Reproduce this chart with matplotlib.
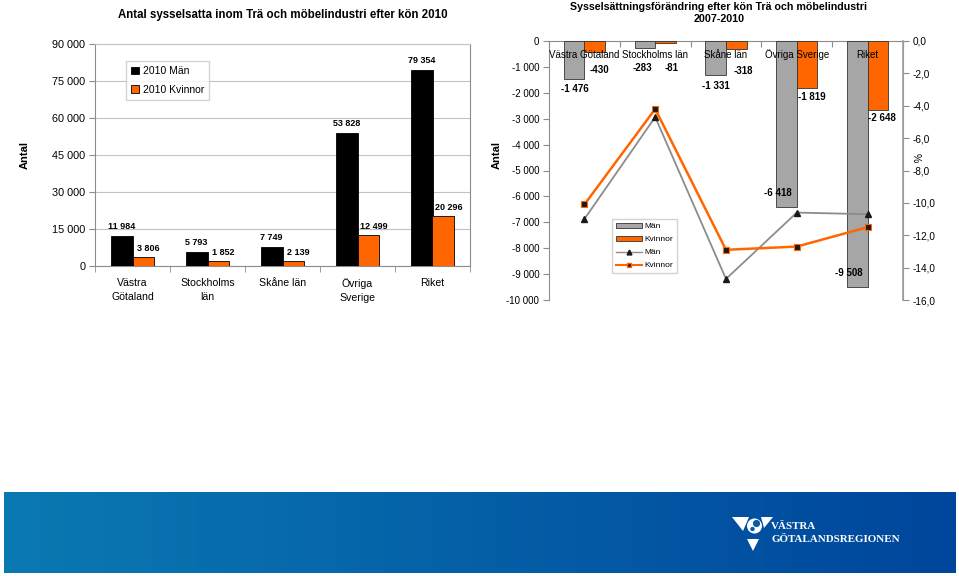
import numpy as np
import matplotlib
matplotlib.use("Agg")
import matplotlib.pyplot as plt
from matplotlib.ticker import FuncFormatter
from matplotlib.patches import Polygon, Circle, Patch
from matplotlib.lines import Line2D

plt.rcParams['font.family'] = ['Liberation Sans', 'DejaVu Sans']

# ---------------- data ----------------
categories_left = ["Västra\nGötaland", "Stockholms\nlän", "Skåne län", "Övriga\nSverige", "Riket"]
man_2010 = [11984, 5793, 7749, 53828, 79354]
kvinnor_2010 = [3806, 1852, 2139, 12499, 20296]

categories_right = ["Västra Götaland", "Stockholms län", "Skåne län", "Övriga Sverige", "Riket"]
man_change = [-1476, -283, -1331, -6418, -9508]
kvinnor_change = [-430, -81, -318, -1819, -2648]
man_change_pct = [-11.0, -4.7, -14.7, -10.6, -10.7]
kvinnor_change_pct = [-10.1, -4.2, -12.9, -12.7, -11.5]

# label offsets (pixels) for the right chart bar labels
man_lbl_dx = [1, -2, 0, -9, -9]
man_lbl_dy = [10, 20, 11, -14, -14]
kv_lbl_dx = [5, 6, 7, 5, 4]
kv_lbl_dy = [18, 25, 22, 9, 8]

W, H = 959, 576
fig = plt.figure(figsize=(W / 100, H / 100), dpi=100)


def rect(x0, y0, x1, y1):
    return [x0 / W, 1 - y1 / H, (x1 - x0) / W, (y1 - y0) / H]


def sp(v):
    s = f"{abs(int(round(v))):,}".replace(",", " ")
    return ("-" if v < 0 else "") + s


GRAY = '#8C8C8C'
ORANGE = '#FF6600'

# ---------------- left chart ----------------
axL = fig.add_axes(rect(95, 44, 470, 266))
x = np.arange(len(categories_left))
bw = 0.29
axL.bar(x - bw / 2, man_2010, bw, color='black', edgecolor='black', lw=0.6,
        label='2010 Män', zorder=3)
axL.bar(x + bw / 2, kvinnor_2010, bw, color=ORANGE, edgecolor='black', lw=0.6,
        label='2010 Kvinnor', zorder=3)
axL.set_xlim(-0.5, len(x) - 0.5)
axL.set_ylim(0, 90000)
axL.set_yticks(range(0, 90001, 15000))
axL.yaxis.set_major_formatter(FuncFormatter(lambda v, p: sp(v)))
axL.grid(axis='y', color='#C4C4C4', lw=0.8, zorder=0)
axL.set_xticks(x)
axL.set_xticklabels(categories_left, fontsize=7.6, linespacing=1.5)
axL.set_xticks(np.arange(-0.5, len(x), 1.0), minor=True)
axL.tick_params(axis='x', which='major', length=0, pad=9)
axL.tick_params(axis='x', which='minor', length=4, color=GRAY)
axL.tick_params(axis='y', length=4, color=GRAY, labelsize=7.8, pad=3)
for s in ['left', 'bottom', 'right', 'top']:
    axL.spines[s].set_color(GRAY)
axL.spines['top'].set_color('#C4C4C4')

for i in range(len(x)):
    axL.annotate(sp(man_2010[i]), (x[i] - bw / 2, man_2010[i]), xytext=(0, 5),
                 textcoords='offset pixels', ha='center', va='bottom',
                 fontsize=6.5, fontweight='bold')
    axL.annotate(sp(kvinnor_2010[i]), (x[i] + bw / 2, kvinnor_2010[i]), xytext=(5, 4),
                 textcoords='offset pixels', ha='center', va='bottom',
                 fontsize=6.5, fontweight='bold')

axL.legend(loc='upper left', bbox_to_anchor=(126 / W, 1 - 61 / H),
           bbox_transform=fig.transFigure, fontsize=7.5, frameon=True,
           fancybox=False, edgecolor='#C8C8C8', handlelength=0.7,
           handleheight=0.7, handletextpad=0.4, borderpad=0.5,
           labelspacing=0.8, borderaxespad=0)

fig.text(283 / W, 1 - 15 / H, "Antal sysselsatta inom Trä och möbelindustri efter kön 2010",
         ha='center', va='center', fontsize=8.3, fontweight='bold')
fig.text(25 / W, 1 - 155 / H, "Antal", rotation=90, ha='center', va='center',
         fontsize=8, fontweight='bold')

# ---------------- right chart ----------------
axR = fig.add_axes(rect(549, 41, 903, 300))
xr = np.arange(len(categories_right))
axR.bar(xr - bw / 2, man_change, bw, color='#A6A6A6', edgecolor='#333333', lw=0.6,
        zorder=3)
axR.bar(xr + bw / 2, kvinnor_change, bw, color=ORANGE, edgecolor='#333333', lw=0.6,
        zorder=3)
axR.set_xlim(-0.5, len(xr) - 0.5)
axR.set_ylim(-10000, 0)
axR.set_yticks(range(-10000, 1, 1000))
axR.yaxis.set_major_formatter(FuncFormatter(lambda v, p: sp(v)))
axR.tick_params(axis='y', length=4, color=GRAY, labelsize=7, pad=3)
axR.xaxis.set_ticks_position('top')
axR.set_xticks(np.arange(-0.5, len(xr), 1.0))
axR.set_xticklabels([])
axR.tick_params(axis='x', direction='in', length=4, color=GRAY)
for s in ['left', 'top', 'right']:
    axR.spines[s].set_color(GRAY)
axR.spines['bottom'].set_visible(False)

for i in range(len(xr)):
    axR.annotate(categories_right[i], (xr[i], 0), xytext=(0, -14),
                 textcoords='offset pixels', ha='center', va='center',
                 fontsize=7, zorder=5)
    axR.annotate(sp(man_change[i]), (xr[i] - bw / 2, man_change[i]),
                 xytext=(man_lbl_dx[i], -man_lbl_dy[i]), textcoords='offset pixels',
                 ha='center', va='center', fontsize=7, fontweight='bold', zorder=6)
    axR.annotate(sp(kvinnor_change[i]), (xr[i] + bw / 2, kvinnor_change[i]),
                 xytext=(kv_lbl_dx[i], -kv_lbl_dy[i]), textcoords='offset pixels',
                 ha='center', va='center', fontsize=7, fontweight='bold', zorder=6)

ax2 = axR.twinx()
ax2.set_ylim(-16, 0)
ax2.set_yticks(np.arange(-16, 1, 2))
ax2.yaxis.set_major_formatter(FuncFormatter(lambda v, p: f"{v:.1f}".replace(".", ",")))
ax2.tick_params(axis='y', length=4, color=GRAY, labelsize=7.2, pad=3)
for s in ['left', 'top', 'bottom']:
    ax2.spines[s].set_visible(False)
ax2.spines['right'].set_color('#A0A0A0')
ax2.spines['right'].set_linewidth(1.2)
ax2.plot(xr, man_change_pct, color='#8C8C8C', lw=1.3, marker='^', ms=4.5,
         mfc='#1a1a1a', mec='#1a1a1a')
ax2.plot(xr, kvinnor_change_pct, color=ORANGE, lw=1.8, marker='s', ms=4.2,
         mfc='#1a1a1a', mec=ORANGE, mew=0.8)

handles = [
    Patch(facecolor='#A6A6A6', edgecolor='#333333', lw=0.6),
    Patch(facecolor=ORANGE, edgecolor='#333333', lw=0.6),
    Line2D([], [], color='#8C8C8C', lw=1.0, marker='^', ms=3.5, mfc='#1a1a1a', mec='#1a1a1a'),
    Line2D([], [], color=ORANGE, lw=1.5, marker='s', ms=3.5, mfc='#1a1a1a', mec=ORANGE),
]
ax2.legend(handles, ["Män", "Kvinnor", "Män", "Kvinnor"], loc='upper left',
           bbox_to_anchor=(612 / W, 1 - 219 / H), bbox_transform=fig.transFigure,
           fontsize=6, frameon=True, fancybox=False, edgecolor='#C8C8C8',
           handlelength=3.2, handleheight=0.6, handletextpad=0.2, borderpad=0.45,
           labelspacing=0.65, borderaxespad=0)

fig.text(719 / W, 1 - 13 / H,
         "Sysselsättningsförändring efter kön Trä och möbelindustri\n2007-2010",
         ha='center', va='center', fontsize=7.7, fontweight='bold', linespacing=1.35)
fig.text(497 / W, 1 - 155 / H, "Antal", rotation=90, ha='center', va='center',
         fontsize=8, fontweight='bold')
fig.text(916 / W, 1 - 158 / H, "%", rotation=270, ha='center', va='center',
         fontsize=7.5)

# ---------------- bottom banner ----------------
axB = fig.add_axes([0, 0, 1, 1], zorder=-1)
axB.axis('off')
c0 = np.array([0x0A, 0x79, 0xB2]) / 255
c1 = np.array([0x00, 0x46, 0x9C]) / 255
t = np.linspace(0, 1, 256)[:, None]
grad = (c0 * (1 - t) + c1 * t)[None, :, :]
axB.imshow(grad, extent=(4, 956, 573, 492), aspect='auto', interpolation='bilinear')
axB.set_xlim(0, W)
axB.set_ylim(H, 0)
for pts in [[(732, 517), (749, 517), (743, 531)],
            [(761, 517), (773, 517), (764, 528)],
            [(747, 539), (759, 539), (753, 551)]]:
    axB.add_patch(Polygon(pts, closed=True, facecolor='white', edgecolor='none'))
axB.add_patch(Circle((754.5, 526), 7.5, facecolor='white', edgecolor='none'))
axB.add_patch(Circle((756.5, 523.5), 3.6, facecolor='#0859a6', edgecolor='none'))
axB.add_patch(Circle((752.5, 529), 2.2, facecolor='#0859a6', edgecolor='none'))
axB.text(771, 526, "VÄSTRA", color='white', ha='left', va='center',
         fontsize=7.9, family='Liberation Serif', fontweight='bold')
axB.text(771, 539, "GÖTALANDSREGIONEN", color='white', ha='left', va='center',
         fontsize=7.9, family='Liberation Serif', fontweight='bold')

fig.savefig("out.png", dpi=100)
